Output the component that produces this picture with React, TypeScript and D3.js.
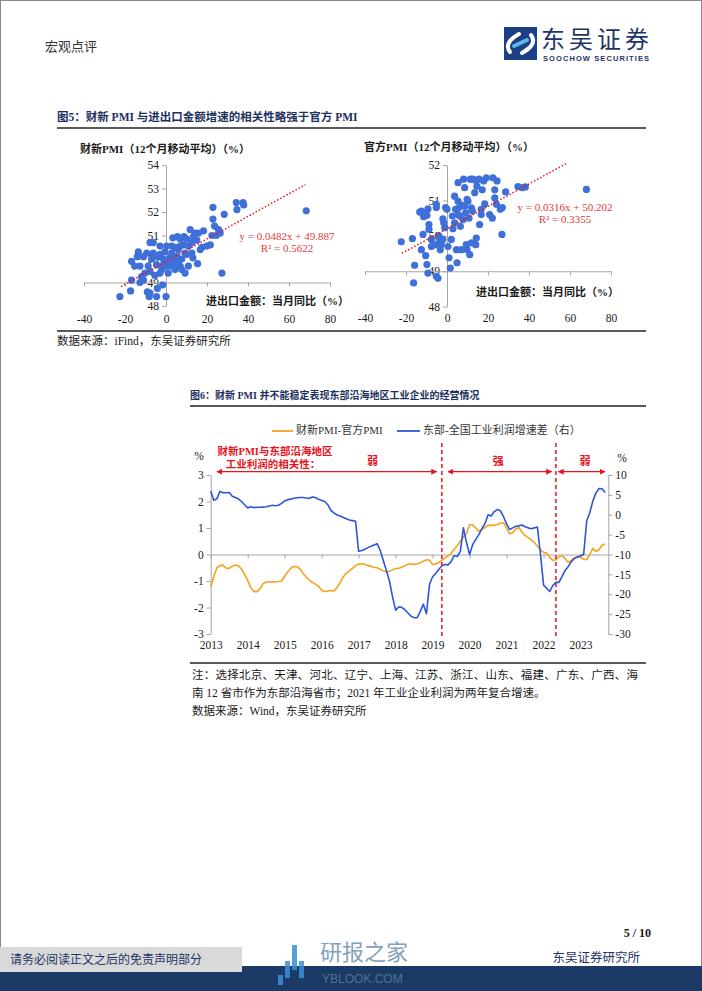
import React, { useEffect, useRef } from 'react';
import * as d3 from 'd3';

// scatter: [进出口金额当月同比, PMI 12个月移动平均]
const caixinPoints = [
  [-22.5, 48.4], [-17.3, 48.64], [-16.8, 49.1], [-16.8, 49.9], [-14, 50.1], [-13.5, 50.3], [-12.7, 49.7],
  [-11.9, 49.25], [-12.7, 49.0], [-11, 49.1], [-10.3, 49.4], [-8.7, 49.7], [-7.8, 50.7], [-6.2, 50.7],
  [-9.1, 48.6], [-8.2, 48.4], [-7.8, 48.55], [-4.6, 48.4], [-4.2, 48.75], [-5.4, 49.3], [-4.6, 49.75],
  [-3.8, 50.1], [-2.9, 50.2], [-1.3, 50.0], [-1.6, 48.9], [0, 48.4], [-0.5, 50.3], [0.3, 49.7], [1.1, 49.4],
  [2, 50.05], [2.8, 50.55], [3.3, 50.9], [3.6, 49.8], [4.4, 49.55], [5.2, 50.1], [5.6, 50.95], [6, 50.4],
  [6.9, 49.7], [7.7, 50.0], [8.5, 50.6], [8.8, 50.95], [9.3, 49.4], [10.1, 50.2], [10.9, 49.7], [11.8, 51.25],
  [12.6, 50.7], [13.1, 50.05], [13.4, 50.95], [14.2, 51.1], [15, 50.8], [15.4, 49.8], [15.8, 51.1], [16.7, 50.4],
  [17.5, 50.5], [18.3, 51.2], [19.9, 50.55], [21.6, 50.6], [22.4, 51.0], [22.9, 52.2], [22.9, 51.7], [23.7, 51.4],
  [24.5, 51.0], [25.6, 51.25], [26.4, 51.1], [27.3, 49.4], [28.4, 51.9], [34.3, 52.4], [34.6, 52.1], [37.6, 52.4],
  [37.9, 52.3], [68.4, 52.05], [-9.4, 50.25], [-15.3, 49.7], [-11, 50.1], [-7, 50], [-6.2, 50.25], [-2.9, 50.55],
  [0.3, 50.55], [4.4, 50.5], [6, 49.8], [7.7, 49.55], [2, 49.7], [-2.1, 49.55], [-5.4, 50.1], [2.8, 50.25],
  [6.9, 50.55], [9.3, 50.25], [10.9, 50.55], [12.6, 50.25], [10.1, 50.85], [6.9, 50.85], [4.4, 50.05],
  [1.1, 49.9], [-1.3, 49.75], [-2.9, 49.4], [-7.8, 49.47],
];

const officialPoints = [
  [-22.3, 49.83], [-16.9, 49.92], [-15.8, 49.17], [-16.3, 48.67], [-13.3, 50.67], [-12.5, 50.7], [-11.4, 50.54],
  [-10.4, 50.65], [-9.3, 50.76], [-9.8, 50.58], [-11.7, 50.04], [-12.5, 49.61], [-10.4, 49.44], [-9.8, 49.19],
  [-9.3, 48.95], [-8.8, 50.32], [-8.8, 50.18], [-7.6, 49.9], [-7.6, 49.7], [-6, 49.75], [-5.2, 48.86], [-4.4, 48.8],
  [-5.2, 50.89], [-5.2, 50.8], [-3.9, 50.0], [-3.6, 49.85], [-2.8, 49.75], [-3.3, 49.61], [-2, 50.48], [-1.6, 50.37],
  [-1.1, 50.23], [-0.7, 50.8], [0, 50.75], [0.5, 49.7], [1, 49.38], [1.6, 49.09], [2.1, 49.9], [2.6, 50.56],
  [2.9, 50.2], [3.7, 51.12], [4.2, 50.75], [4.6, 49.61], [4.9, 49.24], [5.4, 51.5], [5.4, 50.98], [5.9, 50.8],
  [6.2, 50.56], [6.5, 50.27], [7, 49.61], [7.5, 50.86], [7.8, 50.46], [8.1, 51.6], [8.6, 51.36], [8.6, 50.84],
  [9.1, 50.65], [9.4, 49.75], [9.8, 49.61], [10.2, 50.98], [10.7, 50.5], [11.1, 49.47], [11.4, 51.6], [11.9, 49.8],
  [12.4, 50.7], [12.7, 51.6], [13.5, 51.22], [14, 49.75], [14.3, 51.55], [14.3, 49.94], [14.6, 51.4], [15.6, 51.6],
  [15.9, 50.32], [16.7, 50.75], [17.2, 51.3], [17.9, 51.55], [18.4, 50.9], [19.2, 51.64], [20.8, 50.6], [22.1, 50.5],
  [22.4, 51.64], [23.3, 51.3], [23.3, 51.07], [24.1, 50.89], [24.4, 51.55], [26, 50.75], [27, 50.8], [26.8, 50.04],
  [28.6, 51.24], [34.6, 51.39], [36.7, 51.36], [38.2, 51.38], [68, 51.31], [16.7, 50.6], [11.9, 50.79], [5.4, 50.6],
  [9.8, 51.03], [3.7, 50.37], [-2, 49.9],
];

const caixinFit = [0.0482, 49.887];
const officialFit = [0.0316, 50.202];
const scatterTicksX = [-40, -20, 0, 20, 40, 60, 80];
const caixinTicksY = [48, 49, 50, 51, 52, 53, 54];
const officialTicksY = [48, 49, 50, 51, 52];

// monthly, 2013-01 .. 2023-09
const years = [2013, 2014, 2015, 2016, 2017, 2018, 2019, 2020, 2021, 2022, 2023];
const pmiGap = [
  -1.22, -0.85, -0.5, -0.42, -0.4, -0.52, -0.52, -0.44, -0.4, -0.43, -0.55, -0.75,
  -0.98, -1.25, -1.4, -1.4, -1.3, -1.1, -1.04, -1.04, -1.04, -1.03, -1.02, -1.0,
  -0.82, -0.65, -0.52, -0.45, -0.46, -0.55, -0.72, -0.86, -0.97, -1.05, -1.12, -1.2,
  -1.35, -1.4, -1.38, -1.36, -1.38, -1.25, -1.05, -0.85, -0.7, -0.62, -0.52, -0.42,
  -0.36, -0.35, -0.37, -0.42, -0.44, -0.48, -0.5, -0.56, -0.62, -0.65, -0.63, -0.58,
  -0.53, -0.52, -0.48, -0.42, -0.37, -0.35, -0.38, -0.35, -0.31, -0.25, -0.2, -0.22,
  -0.38, -0.36, -0.3, -0.22, -0.13, -0.05, 0.04, 0.2, 0.33, 0.5, 0.65, 0.79,
  1.12, 1.12, 1.0, 0.88, 0.95, 1.02, 1.1, 1.1, 1.1, 1.13, 1.18, 1.2,
  1.0, 0.78, 0.82, 0.97, 1.02, 0.85, 0.72, 0.64, 0.55, 0.45, 0.32, 0.18,
  0.08, 0.05, -0.1, -0.22, -0.2, -0.08, -0.05, -0.15, -0.3, -0.22, -0.12, -0.1,
  -0.1, -0.18, -0.2, 0.0, 0.23, 0.12, 0.18, 0.36, 0.4,
];
const profitGap = [
  6.0, 3.67, 4.0, 5.87, 5.53, 5.53, 5.6, 4.67, 4.33, 4.0, 3.33, 2.53,
  1.73, 2.0, 1.8, 1.87, 1.87, 1.93, 2.0, 2.2, 2.4, 2.27, 2.4, 2.87,
  3.47, 3.8, 3.93, 4.13, 4.27, 4.33, 4.33, 4.2, 4.13, 4.47, 4.33, 3.87,
  3.6, 3.33, 2.53, 1.07, 0.47, -0.07, -0.33, -0.67, -1.0, -1.33, -1.47, -1.67,
  -9.2, -9.0, -8.67, -8.27, -7.93, -7.6, -7.27, -9.0, -11.5, -14, -16.67, -20.67,
  -24.0, -23.2, -23.3, -23.9, -24.7, -25.5, -25.9, -25.9, -24.3, -22.5, -24.9, -17.5,
  -15.6, -14.8, -13.8, -12.8, -12.5, -12.6, -11.8, -10.3, -10.5, -9.2, -3.3, -7.0,
  -10.0, -7.5, -6.2, -5.0, -3.5, -2.2, 0.0, -0.3, 0.8, 1.3, 1.0, -0.5,
  -2.3, -3.7, -3.3, -2.9, -2.8, -2.6, -3.0, -3.3, -3.5, -3.3, -3.1, -10.0,
  -17.7, -18.5, -19.3, -17.8, -17.0, -17.0, -15.5, -14.0, -13.0, -11.8, -11.0, -10.6,
  -10.3, -10.0, -1.5, 0.5, 3.5, 5.5, 6.6, 6.5, 5.6,
];
const leftTicks = [-3, -2, -1, 0, 1, 2, 3];
const rightTicks = [-30, -25, -20, -15, -10, -5, 0, 5, 10];
// month index of the two regime breaks, and the arrow spans
const breaks = [75, 112];
const phases = [[2, 73.3], [77, 110.6], [112.8, 127.9]];
const phaseLabels = [['弱', 52.5], ['强', 93.3], ['弱', 121.4]];

const SERIF = "'Liberation Serif', 'Noto Sans CJK SC', serif";
const NAVY = '#1c2f5e';
const AXIS = '#a6a6a6';
const DOT = '#3f6fd9';
const RED = '#e8141c';
const fmt = d => String(d);

function styleAxis(g) {
  g.attr('font-family', SERIF).attr('font-size', 11.5);
  g.selectAll('text').attr('fill', '#1a1a1a');
  g.select('.domain').attr('stroke', AXIS);
  g.selectAll('.tick line').attr('stroke', AXIS);
}

function drawScatter(svg, cfg) {
  const x = d3.scaleLinear().domain([-40, 80]).range(cfg.xRange);
  const y = d3.scaleLinear().domain(cfg.yDomain).range(cfg.yRange);

  svg.append('g')
    .attr('transform', `translate(${x(0)},0)`)
    .call(d3.axisLeft(y).tickValues(cfg.yTicks).tickFormat(fmt).tickSize(4).tickSizeOuter(0).tickPadding(3))
    .call(styleAxis);

  svg.append('g')
    .attr('transform', `translate(0,${y(49)})`)
    .call(d3.axisBottom(x).tickValues(scatterTicksX).tickFormat('').tickSize(4).tickSizeOuter(0))
    .call(styleAxis);

  const lab = svg.append('g')
    .attr('transform', `translate(0,${cfg.xLabelY})`)
    .call(d3.axisBottom(x).tickValues(scatterTicksX).tickFormat(fmt).tickSize(0).tickPadding(0))
    .call(styleAxis);
  lab.select('.domain').remove();

  svg.append('g').selectAll('circle')
    .data(cfg.points)
    .join('circle')
    .attr('cx', d => x(d[0]))
    .attr('cy', d => y(d[1]))
    .attr('r', 3.6)
    .attr('fill', DOT);

  const [a, b] = cfg.fit;
  svg.append('line')
    .attr('x1', x(cfg.fitRange[0])).attr('y1', y(a * cfg.fitRange[0] + b))
    .attr('x2', x(cfg.fitRange[1])).attr('y2', y(a * cfg.fitRange[1] + b))
    .attr('stroke', RED).attr('stroke-width', 1.5).attr('stroke-dasharray', '1.5,2');

  svg.append('text').attr('x', cfg.yTitle[1]).attr('y', cfg.yTitle[2])
    .attr('font-family', SERIF).attr('font-size', 11).attr('font-weight', 'bold')
    .attr('fill', '#1a1a1a').attr('dominant-baseline', 'middle').text(cfg.yTitle[0]);
  svg.append('text').attr('x', cfg.xTitle[1]).attr('y', cfg.xTitle[2])
    .attr('font-family', SERIF).attr('font-size', 11).attr('font-weight', 'bold')
    .attr('fill', '#1a1a1a').attr('dominant-baseline', 'middle').text(cfg.xTitle[0]);

  cfg.eq.forEach((t, i) => {
    svg.append('text').attr('x', cfg.eqPos[0]).attr('y', cfg.eqPos[1] + i * 12)
      .attr('text-anchor', 'middle').attr('dominant-baseline', 'middle')
      .attr('font-family', SERIF).attr('font-size', 11).attr('fill', '#e03a3e').text(t);
  });
}

const App = () => {
  const ref = useRef();

  useEffect(() => {
    const svg = d3.select(ref.current);
    svg.selectAll('*').remove();

    // page frame
    svg.append('rect').attr('x', 0.5).attr('y', 0.5).attr('width', 701).attr('height', 990)
      .attr('fill', '#fff').attr('stroke', '#8a8a8a');

    // header
    svg.append('text').attr('x', 45).attr('y', 51).attr('font-family', "'Noto Sans CJK SC'")
      .attr('font-size', 13).attr('fill', '#333').text('宏观点评');
    const logo = svg.append('g');
    logo.append('rect').attr('x', 504).attr('y', 27).attr('width', 33).attr('height', 33).attr('fill', '#1d3f86');
    logo.append('path').attr('d', 'M 510 52 C 504 44 512 38 519 34 M 531 35 C 537 43 529 49 522 53')
      .attr('fill', 'none').attr('stroke', '#fff').attr('stroke-width', 4).attr('stroke-linecap', 'round');
    logo.append('path').attr('d', 'M 514 46 L 527 40')
      .attr('stroke', '#5fb4ea').attr('stroke-width', 4).attr('stroke-linecap', 'round');
    logo.append('text').attr('x', 541).attr('y', 48).attr('font-family', "'Noto Sans CJK SC'")
      .attr('font-size', 24).attr('fill', '#1d3466').attr('textLength', 108).text('东吴证券');
    logo.append('text').attr('x', 543).attr('y', 61).attr('font-family', "'Liberation Sans', sans-serif")
      .attr('font-size', 7.5).attr('font-weight', 'bold').attr('fill', '#1d3466')
      .attr('textLength', 106).text('SOOCHOW SECURITIES');

    // figure 5
    svg.append('text').attr('x', 57).attr('y', 121).attr('font-family', SERIF).attr('font-size', 11.5)
      .attr('font-weight', 'bold').attr('fill', NAVY).text('图5：财新 PMI 与进出口金额增速的相关性略强于官方 PMI');
    svg.append('line').attr('x1', 57).attr('x2', 646).attr('y1', 128).attr('y2', 128)
      .attr('stroke', '#222').attr('stroke-width', 1.5);

    drawScatter(svg, {
      points: caixinPoints, fit: caixinFit, fitRange: [-22, 68],
      xRange: [84, 330], yDomain: [48, 54], yRange: [306, 165], yTicks: caixinTicksY, xLabelY: 315,
      yTitle: ['财新PMI（12个月移动平均）（%）', 80, 150],
      xTitle: ['进出口金额：当月同比（%）', 206, 302],
      eq: ['y = 0.0482x + 49.887', 'R² = 0.5622'], eqPos: [287, 237],
    });
    drawScatter(svg, {
      points: officialPoints, fit: officialFit, fitRange: [-22, 58],
      xRange: [365, 611], yDomain: [48, 52], yRange: [306.7, 165], yTicks: officialTicksY, xLabelY: 314,
      yTitle: ['官方PMI（12个月移动平均）（%）', 364, 148],
      xTitle: ['进出口金额：当月同比（%）', 476, 293],
      eq: ['y = 0.0316x + 50.202', 'R² = 0.3355'], eqPos: [565, 208],
    });

    svg.append('line').attr('x1', 57).attr('x2', 646).attr('y1', 331).attr('y2', 331)
      .attr('stroke', '#222').attr('stroke-width', 1.5);
    svg.append('text').attr('x', 57).attr('y', 345).attr('font-family', SERIF).attr('font-size', 11.5)
      .attr('fill', '#1a1a1a').text('数据来源：iFind，东吴证券研究所');

    // figure 6
    svg.append('text').attr('x', 190).attr('y', 399).attr('font-family', SERIF).attr('font-size', 10)
      .attr('font-weight', 'bold').attr('fill', NAVY).text('图6：财新 PMI 并不能稳定表现东部沿海地区工业企业的经营情况');
    svg.append('line').attr('x1', 190).attr('x2', 646).attr('y1', 406).attr('y2', 406)
      .attr('stroke', '#222').attr('stroke-width', 1.5);

    const x = d3.scaleLinear().domain([0, 129]).range([210.7, 608.3]);
    const yL = d3.scaleLinear().domain([-3, 3]).range([634, 475]);
    const yR = d3.scaleLinear().domain([-30, 10]).range([634, 475]);

    svg.append('g').attr('transform', `translate(${x(0)},0)`)
      .call(d3.axisLeft(yL).tickValues(leftTicks).tickFormat(fmt).tickSize(4).tickSizeOuter(0).tickPadding(3))
      .call(styleAxis);
    svg.append('g').attr('transform', `translate(${x(129)},0)`)
      .call(d3.axisRight(yR).tickValues(rightTicks).tickFormat(fmt).tickSize(4).tickSizeOuter(0).tickPadding(3))
      .call(styleAxis);
    svg.append('g').attr('transform', `translate(0,${yL(0)})`)
      .call(d3.axisBottom(x).tickValues(years.map(v => (v - 2013) * 12)).tickFormat('').tickSize(4).tickSizeOuter(0))
      .call(styleAxis);
    const yl = svg.append('g').attr('transform', 'translate(0,641)')
      .call(d3.axisBottom(x).tickValues(years.map(v => (v - 2013) * 12))
        .tickFormat((d, i) => String(years[i])).tickSize(0).tickPadding(0))
      .call(styleAxis);
    yl.select('.domain').remove();

    svg.append('text').attr('x', 199).attr('y', 460).attr('text-anchor', 'middle')
      .attr('font-family', SERIF).attr('font-size', 11.5).attr('fill', '#1a1a1a').text('%');
    svg.append('text').attr('x', 622).attr('y', 462).attr('text-anchor', 'middle')
      .attr('font-family', SERIF).attr('font-size', 11.5).attr('fill', '#1a1a1a').text('%');

    const lineL = d3.line().x((d, i) => x(i)).y(d => yL(d));
    const lineR = d3.line().x((d, i) => x(i)).y(d => yR(d));
    svg.append('path').datum(pmiGap).attr('d', lineL).attr('fill', 'none')
      .attr('stroke', '#f5a21e').attr('stroke-width', 1.6).attr('stroke-linejoin', 'round');
    svg.append('path').datum(profitGap).attr('d', lineR).attr('fill', 'none')
      .attr('stroke', '#2e55d6').attr('stroke-width', 1.6).attr('stroke-linejoin', 'round');

    // annotations
    const defs = svg.append('defs');
    defs.append('marker').attr('id', 'arr').attr('viewBox', '0 0 10 10').attr('refX', 9).attr('refY', 5)
      .attr('markerWidth', 6).attr('markerHeight', 6).attr('orient', 'auto-start-reverse')
      .attr('markerUnits', 'userSpaceOnUse')
      .append('path').attr('d', 'M0,0 L10,5 L0,10 z').attr('fill', RED);

    breaks.forEach(m => {
      svg.append('line').attr('x1', x(m)).attr('x2', x(m)).attr('y1', 443).attr('y2', 636)
        .attr('stroke', RED).attr('stroke-width', 1.5).attr('stroke-dasharray', '4,3');
    });
    phases.forEach(([s, e]) => {
      svg.append('line').attr('x1', x(s)).attr('x2', x(e)).attr('y1', 471.7).attr('y2', 471.7)
        .attr('stroke', RED).attr('stroke-width', 1.2)
        .attr('marker-start', 'url(#arr)').attr('marker-end', 'url(#arr)');
    });
    phaseLabels.forEach(([t, m]) => {
      svg.append('text').attr('x', x(m)).attr('y', 462).attr('text-anchor', 'middle')
        .attr('dominant-baseline', 'middle').attr('font-family', SERIF).attr('font-size', 11)
        .attr('font-weight', 'bold').attr('fill', RED).text(t);
    });
    svg.append('text').attr('x', 275).attr('y', 453).attr('text-anchor', 'middle')
      .attr('dominant-baseline', 'middle').attr('font-family', SERIF).attr('font-size', 10.5)
      .attr('font-weight', 'bold').attr('fill', RED).text('财新PMI与东部沿海地区');
    svg.append('text').attr('x', 273).attr('y', 466).attr('text-anchor', 'middle')
      .attr('dominant-baseline', 'middle').attr('font-family', SERIF).attr('font-size', 10.5)
      .attr('font-weight', 'bold').attr('fill', RED).text('工业利润的相关性：');

    // legend
    const legend = svg.append('g').attr('font-family', SERIF).attr('font-size', 11).attr('fill', '#333');
    legend.append('line').attr('x1', 272).attr('x2', 293).attr('y1', 431).attr('y2', 431)
      .attr('stroke', '#f5a21e').attr('stroke-width', 1.8);
    legend.append('text').attr('x', 296).attr('y', 431).attr('dominant-baseline', 'middle').text('财新PMI-官方PMI');
    legend.append('line').attr('x1', 397).attr('x2', 420).attr('y1', 431).attr('y2', 431)
      .attr('stroke', '#2e55d6').attr('stroke-width', 1.8);
    legend.append('text').attr('x', 423).attr('y', 431).attr('dominant-baseline', 'middle').text('东部-全国工业利润增速差（右）');

    // notes
    svg.append('line').attr('x1', 190).attr('x2', 646).attr('y1', 663).attr('y2', 663)
      .attr('stroke', '#222').attr('stroke-width', 1.5);
    const notes = [
      ['注：选择北京、天津、河北、辽宁、上海、江苏、浙江、山东、福建、广东、广西、海', 446],
      ['南 12 省市作为东部沿海省市；2021 年工业企业利润为两年复合增速。', null],
      ['数据来源：Wind，东吴证券研究所', null],
    ];
    notes.forEach(([t, len], i) => {
      const el = svg.append('text').attr('x', 192).attr('y', 679 + i * 18).attr('font-family', SERIF)
        .attr('font-size', 11.5).attr('fill', '#1a1a1a').text(t);
      if (len) el.attr('textLength', len);
    });

    // footer
    svg.append('text').attr('x', 651).attr('y', 937).attr('text-anchor', 'end').attr('font-family', SERIF)
      .attr('font-size', 12).attr('font-weight', 'bold').attr('fill', '#1a1a1a').text('5 / 10');
    svg.append('text').attr('x', 640).attr('y', 962).attr('text-anchor', 'end').attr('font-family', SERIF)
      .attr('font-size', 12.5).attr('fill', '#1d3466').text('东吴证券研究所');
    svg.append('rect').attr('x', 0).attr('y', 966).attr('width', 702).attr('height', 25).attr('fill', '#1b3a66');
    svg.append('rect').attr('x', 0).attr('y', 947).attr('width', 242).attr('height', 25).attr('fill', '#d9d9d9');
    svg.append('text').attr('x', 10).attr('y', 964).attr('font-family', SERIF).attr('font-size', 12)
      .attr('fill', '#1d3466').text('请务必阅读正文之后的免责声明部分');
    const wm = svg.append('g').attr('opacity', 0.85);
    [[278, 975, 10], [285, 968, 17], [292, 960, 25], [299, 968, 17]].forEach(([bx, by, h]) => {
      wm.append('rect').attr('x', bx).attr('y', by + 10 - h).attr('width', 5).attr('height', h).attr('fill', '#3a8fd8');
    });
    wm.append('text').attr('x', 320).attr('y', 960).attr('font-family', "'Noto Sans CJK SC'")
      .attr('font-size', 22).attr('fill', '#6f8fb0').text('研报之家');
    wm.append('text').attr('x', 322).attr('y', 983).attr('font-family', "'Liberation Sans', sans-serif")
      .attr('font-size', 12).attr('fill', '#5d7a98').text('YBLOOK.COM');
  }, []);

  return <svg ref={ref} width={702} height={991} style={{ position: 'absolute', left: 0, top: 0 }} />;
};

export default App;
